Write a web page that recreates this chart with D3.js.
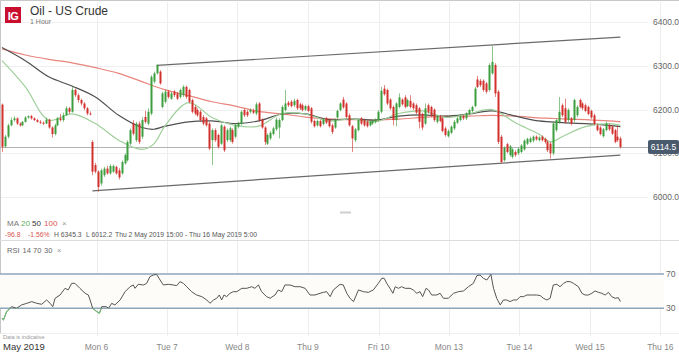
<!DOCTYPE html>
<html><head><meta charset="utf-8">
<script src="https://cdn.jsdelivr.net/npm/d3@7"></script>
<style>
html,body{margin:0;padding:0;background:#fff;}
svg{display:block;font-family:"Liberation Sans",Arial,Helvetica,sans-serif;}
</style></head><body>
<svg id="c" width="679" height="353"></svg>
<script>
// ---------- DATA ----------
const title = "Oil - US Crude";
const interval = "1 Hour";
const dayLabels = ["Mon 6","Tue 7","Wed 8","Thu 9","Fri 10","Mon 13","Tue 14","Wed 15","Thu 16"];
const dayTickIdx = [32.4, 56.6, 80.7, 104.9, 129.1, 153.2, 177.4, 201.6, 225.7];
const priceTicks = [6000, 6100, 6200, 6300, 6400];
const rsiLevels = [70, 30];
const lastPrice = 6114.5;
const statsText = ["-96.8", "-1.56%", "H 6345.3", "L 6012.2", "Thu 2 May 2019 15:00 - Thu 16 May 2019 5:00"];
// hourly candles: [open, high, low, close]
const candles = [
[6211.3,6214,6103,6115],[6116,6142,6113,6138],[6138,6168,6134,6164],[6164,6182,6162,6176],[6176,6185,6172,6180],
[6180,6182,6165,6168],[6168,6171,6161,6164],[6164,6174,6162,6172],[6172,6185,6170,6182],[6182,6187,6179,6185],
[6185,6188,6177,6180],[6180,6182,6174,6176],[6176,6179,6170,6172],[6172,6176,6167,6170],[6170,6173,6165,6168],
[6168,6182,6167,6177],[6177,6179,6156,6159],[6159,6162,6136,6144],[6144,6168,6141,6164],[6164,6183,6162,6180],
[6180,6190,6173,6176],[6176,6193,6172,6187],[6187,6208,6185,6203],[6203,6206,6190,6195],[6195,6252,6193,6245],
[6245,6248,6229,6233],[6233,6237,6216,6222],[6222,6225,6209,6214],[6214,6217,6199,6203],[6203,6206,6187,6191],
[6191,6196,6187,6190],[6126,6130,6050,6058],[6073,6078,6054,6058],[6058,6061,6012.2,6023],[6031,6065,6026,6061],
[6050,6069,6046,6065],[6065,6071,6051,6054],[6054,6075,6051,6071],[6058,6074,6055,6071],[6069,6072,6051,6054],
[6061,6066,6040,6045],[6054,6084,6051,6080],[6077,6100,6074,6096],[6084,6130,6081,6126],[6122,6157,6119,6153],
[6168,6176,6141,6145],[6130,6172,6126,6168],[6168,6173,6121,6126],[6138,6183,6133,6176],[6183,6197,6168,6172],
[6168,6203,6164,6195],[6191,6279,6187,6275],[6264,6287,6260,6283],[6283,6303,6280,6302],[6287,6290,6257,6260],
[6206,6241,6203,6237],[6218,6245,6214,6241],[6241,6245,6225,6229],[6225,6241,6222,6237],[6241,6245,6229,6233],
[6237,6240,6222,6225],[6229,6248,6225,6245],[6233,6256,6229,6252],[6252,6255,6225,6229],[6245,6248,6214,6218],
[6222,6225,6191,6195],[6206,6210,6187,6191],[6199,6203,6183,6187],[6195,6199,6172,6176],[6183,6187,6164,6168],
[6180,6183,6161,6164],[6168,6172,6107,6111],[6130,6157,6073,6153],[6153,6157,6126,6130],[6142,6145,6111,6115],
[6122,6168,6119,6164],[6161,6164,6103,6107],[6130,6157,6126,6153],[6130,6161,6126,6157],[6153,6157,6122,6126],
[6138,6168,6134,6164],[6161,6172,6157,6168],[6168,6199,6164,6195],[6199,6203,6183,6187],[6195,6199,6183,6187],
[6195,6203,6191,6199],[6197,6202,6190,6193],[6191,6217,6187,6212],[6214,6217,6172,6176],[6177,6180,6156,6159],
[6159,6162,6119,6126],[6122,6145,6119,6142],[6134,6151,6130,6147],[6144,6161,6141,6157],[6155,6182,6151,6177],
[6159,6180,6134,6176],[6176,6210,6173,6206],[6199,6245,6196,6214],[6216,6220,6206,6210],[6218,6222,6205,6208],
[6210,6225,6206,6220],[6222,6225,6199,6203],[6212,6216,6199,6203],[6210,6214,6196,6199],[6200,6211,6197,6208],
[6208,6211,6194,6197],[6203,6206,6168,6172],[6174,6177,6159,6162],[6164,6177,6161,6174],[6174,6177,6159,6162],
[6167,6180,6164,6177],[6180,6183,6167,6170],[6176,6179,6159,6162],[6164,6168,6144,6149],[6159,6180,6156,6177],
[6182,6200,6179,6197],[6199,6217,6196,6214],[6223,6229,6202,6205],[6214,6217,6180,6183],[6187,6191,6161,6164],
[6162,6165,6103,6134],[6130,6158,6126,6155],[6153,6179,6150,6176],[6180,6183,6165,6168],[6176,6179,6161,6164],
[6172,6176,6159,6162],[6164,6176,6161,6172],[6168,6177,6165,6174],[6172,6180,6168,6177],[6176,6199,6173,6195],
[6195,6252,6191,6243],[6248,6256,6232,6235],[6245,6248,6210,6214],[6223,6226,6199,6203],[6206,6209,6164,6176],
[6176,6217,6162,6214],[6206,6237,6203,6228],[6223,6226,6209,6212],[6228,6233,6203,6206],[6208,6225,6205,6222],
[6220,6233,6203,6206],[6214,6217,6199,6203],[6210,6214,6190,6193],[6203,6206,6157,6172],[6190,6193,6153,6159],
[6168,6214,6165,6203],[6210,6214,6191,6195],[6206,6209,6183,6187],[6200,6203,6172,6176],[6172,6188,6168,6185],
[6185,6188,6171,6174],[6180,6183,6148,6151],[6157,6161,6138,6142],[6139,6155,6136,6151],[6147,6164,6144,6161],
[6157,6176,6153,6172],[6170,6183,6167,6180],[6176,6188,6173,6185],[6185,6188,6176,6180],[6180,6194,6176,6191],
[6190,6202,6187,6199],[6197,6209,6194,6206],[6208,6252,6205,6248],[6269,6277,6249,6252],[6266,6270,6252,6256],
[6266,6269,6241,6245],[6260,6263,6237,6241],[6245,6306,6241,6302],[6283,6345.3,6280,6309],[6302,6306,6229,6237],
[6241,6245,6121,6126],[6138,6142,6078,6080],[6084,6116,6081,6113],[6121,6124,6100,6103],[6096,6119,6092,6116],
[6092,6112,6088,6109],[6103,6107,6092,6096],[6100,6113,6096,6110],[6103,6121,6100,6118],[6109,6132,6106,6129],
[6122,6136,6119,6133],[6126,6138,6123,6134],[6129,6141,6125,6138],[6138,6141,6129,6132],[6130,6139,6127,6136],
[6138,6141,6127,6130],[6133,6136,6122,6126],[6126,6130,6103,6107],[6122,6126,6088,6100],[6100,6172,6096,6168],
[6153,6179,6149,6176],[6172,6229,6168,6195],[6210,6214,6183,6187],[6203,6225,6168,6172],[6176,6203,6172,6199],
[6180,6183,6164,6168],[6176,6225,6172,6222],[6187,6210,6183,6206],[6222,6225,6203,6206],[6214,6217,6199,6203],
[6210,6214,6194,6197],[6206,6209,6187,6190],[6197,6200,6179,6182],[6187,6191,6164,6167],[6164,6168,6150,6153],
[6159,6162,6141,6144],[6139,6158,6136,6155],[6153,6173,6150,6168],[6164,6168,6151,6155],[6161,6164,6142,6145],
[6153,6156,6123,6126],[6138,6164,6126,6130],[6134,6138,6111,6114.5]
];
// moving averages sampled at candle indices
const maIdx  = [0,8,16,24,32,40,48,52,56,64,72,80,88,96,104,112,120,128,136,144,152,160,168,176,184,188,192,200,208,212];
const ma20   = [6312,6252,6176,6190,6168,6130,6109,6121,6164,6216,6182,6164,6162,6191,6190,6174,6179,6172,6191,6197,6182,6190,6200,6170,6144,6126,6138,6161,6168,6164];
const ma50   = [6342,6312,6275,6254,6229,6187,6159,6155,6162,6172,6174,6168,6174,6190,6190,6177,6179,6176,6185,6188,6185,6190,6197,6185,6174,6172,6170,6168,6164,6161];
const ma100  = [6339,6325,6315,6307,6296,6283,6264,6254,6245,6232,6218,6208,6196,6190,6183,6179,6177,6176,6178,6182,6185,6185,6187,6185,6181,6180,6179,6177,6174,6172];
// RSI(14) read at candle positions
const rsiIdx = [0,0.5,1.6,3.3,5,6.7,8.5,10.2,11.9,13.6,15.3,16.5,17.4,18.2,19.9,21.6,22.7,23.9,25,26.7,28.5,29.6,30.2,31.1,32.5,33.4,34.2,35.7,36.5,37.6,38.7,40.5,42.2,43.9,45,45.6,46.7,48.5,49.6,50.7,51.9,53,54.2,55.3,57,58.7,59.9,61,62.2,63.3,65,66.7,68.5,70.2,71.3,72.5,73.6,74.5,75.3,76.1,77,78.2,79.3,80.5,82.2,83.9,85.6,86.7,87.9,89,90.7,91.9,93.6,94.7,95.9,97,98.7,100.5,102.2,103.9,105.6,107.3,109,110.2,111.3,112.5,113.6,115.9,117,118.2,119.3,120.5,122.2,123.9,125.6,127.3,129,130.2,131,131.9,133,134,134.8,135.9,137,138.2,139.9,141,142.2,143.3,144.2,145.4,146.2,147.3,149,150.2,151.3,153,154.8,156.5,158.2,159.9,161.6,162.8,163.9,165,166.2,167.6,168.5,169.6,170.8,171.9,173,174.2,175.3,176.5,177.6,178.8,179.9,181.6,183.3,184.5,185.6,186.8,187.9,189,190.2,191.3,192.5,193.6,194.8,195.9,197.6,198.8,199.9,201,202.2,203.3,204.5,205.6,206.8,207.9,209,210.2,211.3,212];
const rsiVal = [18.4,16.4,26.1,31.9,30,33.9,35.8,37.8,35.8,34.7,39.7,35.8,31.9,41.7,45.5,53.3,51.4,59.1,59.1,53.3,47.5,45.5,39.7,30,26.1,24.2,31.9,31.9,30,35.8,33.9,39.7,49.4,55.2,57.2,53.3,58,57.2,59.1,66.9,68.8,69.6,63,57.2,58,57.2,56.4,61.1,59.1,55.2,49.4,45.5,43.6,39.7,35.8,39.7,41.7,45.5,39.7,45.5,43.6,47.5,49.4,49.4,53.3,53.3,55.2,53.3,57.2,49.4,43.6,41.7,45.5,51.4,49.4,57.2,57.2,55.2,55.2,53.3,45.5,45.5,47.5,48.6,49.4,43.6,51.4,58,57.2,47.5,41.7,37.8,51.4,49.4,48.6,51.4,59.1,65,65,59.1,53.3,47.5,55.2,53.3,55.2,53.3,53.3,51.4,47.5,49.4,43.6,53.3,51.4,45.5,45.5,47.5,41.7,41.7,47.5,49.4,50.2,55.2,59.1,68.1,68.8,65,63,69.6,53.3,41.7,33.9,39.7,39.7,37.8,39.7,39.7,43.6,43.6,45.5,45.5,45.5,44.8,41.7,39.7,41.7,57.2,58,55.2,59.1,61.1,61.1,59.1,55.2,47.5,45.5,45.5,47.5,50.2,48.6,47.5,45.5,48.6,43.6,41.7,42.4,37.8];
// channel trend lines: [candle index, price]
const trendUpper = [[53,6301],[212,6366]];
const trendLower = [[31,6014],[212,6096]];

// ---------- DRAW ----------
const W = 679, H = 353;
const svg = d3.select("#c");
const x = d3.scaleLinear().domain([0,212]).range([2,620.4]);
const y = d3.scaleLinear().domain([6000,6400]).range([197,22.2]);
const yr = d3.scaleLinear().domain([30,70]).range([308.3,274]);

const UP = "#3d9e3d", DN = "#d2302c";

// vertical day grid
svg.append("g").selectAll("line").data(dayTickIdx).join("line")
  .attr("x1", d=>Math.round(x(d))+0.5).attr("x2", d=>Math.round(x(d))+0.5)
  .attr("y1", 2).attr("y2", 336).attr("stroke", "#ededed");
// horizontal price grid
svg.append("g").selectAll("line").data(priceTicks).join("line")
  .attr("x1", 0).attr("x2", 648)
  .attr("y1", d=>Math.round(y(d))+0.5).attr("y2", d=>Math.round(y(d))+0.5)
  .attr("stroke", "#efefef");

// frame
svg.append("line").attr("x1",0).attr("x2",W).attr("y1",0.5).attr("y2",0.5).attr("stroke","#c8c8c8");
svg.append("line").attr("x1",0.5).attr("x2",0.5).attr("y1",0).attr("y2",334).attr("stroke","#c8c8c8");
svg.append("line").attr("x1",0).attr("x2",W).attr("y1",240.5).attr("y2",240.5).attr("stroke","#dcdcdc");
svg.append("line").attr("x1",0).attr("x2",W).attr("y1",333.5).attr("y2",333.5).attr("stroke","#eeeeee");
svg.append("rect").attr("x",340).attr("y",211.5).attr("width",11).attr("height",2).attr("fill","#cfcfcf");

// header
svg.append("rect").attr("x",5).attr("y",7).attr("width",16).attr("height",16).attr("fill","#c8102e");
svg.append("text").attr("x",13).attr("y",19.5).attr("text-anchor","middle").attr("font-size",11)
  .attr("font-weight","bold").attr("fill","#fff").attr("letter-spacing","-0.5").text("IG");
svg.append("text").attr("x",30).attr("y",14.5).attr("font-size",12).attr("fill","#333").text(title);
svg.append("text").attr("x",30).attr("y",24).attr("font-size",7).attr("fill","#777").text(interval);

// price axis labels (6100.0 sits behind the last-price tag, as in the source)
svg.append("g").selectAll("text").data(priceTicks).join("text")
  .attr("x", 653).attr("y", d=>y(d)+3).attr("font-size", 8.5).attr("fill", "#666")
  .text(d=>d.toFixed(1));

// last price line
svg.append("line").attr("x1",0).attr("x2",648).attr("y1",Math.round(y(lastPrice))+0.5).attr("y2",Math.round(y(lastPrice))+0.5)
  .attr("stroke","#b4b4b4");

// trend lines
const tl = d3.line().x(d=>x(d[0])).y(d=>y(d[1]));
[trendUpper, trendLower].forEach(t=>{
  svg.append("path").attr("d", tl(t)).attr("fill","none").attr("stroke","#6a6a6a").attr("stroke-width",1.2);
});

// moving averages
const maLine = d3.line().x((d,i)=>x(maIdx[i])).y(d=>y(d)).curve(d3.curveCatmullRom.alpha(0.5));
[[ma100,"#e8857d"],[ma50,"#505050"],[ma20,"#9fcf9a"]].forEach(([s,c])=>{
  svg.append("path").attr("d", maLine(s)).attr("fill","none").attr("stroke",c).attr("stroke-width",1.2);
});

// candles
const cg = svg.append("g");
cg.selectAll("line").data(candles).join("line")
  .attr("x1",(d,i)=>Math.round(x(i))+0.5).attr("x2",(d,i)=>Math.round(x(i))+0.5)
  .attr("y1",d=>y(d[1])).attr("y2",d=>y(d[2]))
  .attr("stroke",d=>d[3]>=d[0]?UP:DN).attr("stroke-opacity",0.6).attr("stroke-width",1);
cg.selectAll("rect").data(candles).join("rect")
  .attr("x",(d,i)=>Math.round(x(i))-0.5).attr("width",2)
  .attr("y",d=>y(Math.max(d[0],d[3])))
  .attr("height",d=>Math.max(1, Math.abs(y(d[0])-y(d[3]))))
  .attr("fill",d=>d[3]>=d[0]?UP:DN);

// price tag
svg.append("rect").attr("x",648).attr("y",y(lastPrice)-7).attr("width",31).attr("height",14).attr("rx",2).attr("fill","#4a5a6d");
svg.append("text").attr("x",663.5).attr("y",y(lastPrice)+3).attr("text-anchor","middle").attr("font-size",8.5)
  .attr("fill","#fff").text(lastPrice.toFixed(1));

// MA legend
const maLeg = [["MA","#777",7],["20","#5cae5c",21],["50","#333",32],["100","#d9534f",44],["\u00d7","#999",62]];
svg.append("g").selectAll("text").data(maLeg).join("text")
  .attr("x",d=>d[2]).attr("y",226).attr("font-size",8).attr("fill",d=>d[1]).text(d=>d[0]);
// stats row
const stCol = ["#d9534f","#d9534f","#555","#555","#555"];
const stX = [5,28,54,86,115];
svg.append("g").selectAll("text").data(statsText).join("text")
  .attr("x",(d,i)=>stX[i]).attr("y",236.5).attr("font-size",6.8).attr("fill",(d,i)=>stCol[i]).text(d=>d);
// RSI legend
const rsiLeg = [["RSI",7],["14",22.5],["70",33],["30",44],["\u00d7",57]];
svg.append("g").selectAll("text").data(rsiLeg).join("text")
  .attr("x",d=>d[1]).attr("y",253).attr("font-size",7.5).attr("fill",(d,i)=>i==4?"#999":"#666").text(d=>d[0]);

// RSI band
svg.append("rect").attr("x",0).attr("y",yr(70)).attr("width",664).attr("height",yr(30)-yr(70)).attr("fill","#fefcf9");
svg.append("g").selectAll("line").data(rsiLevels).join("line")
  .attr("x1",0).attr("x2",664).attr("y1",d=>yr(d)).attr("y2",d=>yr(d))
  .attr("stroke","#8ea6ba").attr("stroke-width",1.5);
svg.append("g").selectAll("text").data(rsiLevels).join("text")
  .attr("x",666).attr("y",d=>yr(d)+3).attr("font-size",8.5).attr("fill","#666").text(d=>d);

const rl = d3.line().x((d,i)=>x(rsiIdx[i])).y(d=>yr(d));
svg.append("path").attr("d", rl(rsiVal)).attr("fill","none").attr("stroke","#555").attr("stroke-width",1);
svg.append("clipPath").attr("id","os").append("rect").attr("x",0).attr("y",yr(30)).attr("width",W).attr("height",40);
svg.append("path").attr("d", rl(rsiVal)).attr("fill","none").attr("stroke","#7cc47c").attr("stroke-width",1.1)
  .attr("clip-path","url(#os)");

// x axis
svg.append("text").attr("x",3).attr("y",338.5).attr("font-size",5.5).attr("fill","#999").text("Data is indicative");
svg.append("text").attr("x",3).attr("y",350).attr("font-size",9.5).attr("fill","#333").text("May 2019");
svg.append("g").selectAll("text").data(dayLabels).join("text")
  .attr("x",(d,i)=>x(dayTickIdx[i])).attr("y",350).attr("text-anchor","middle")
  .attr("font-size",8.5).attr("fill","#888").text(d=>d);
</script>
</body></html>
